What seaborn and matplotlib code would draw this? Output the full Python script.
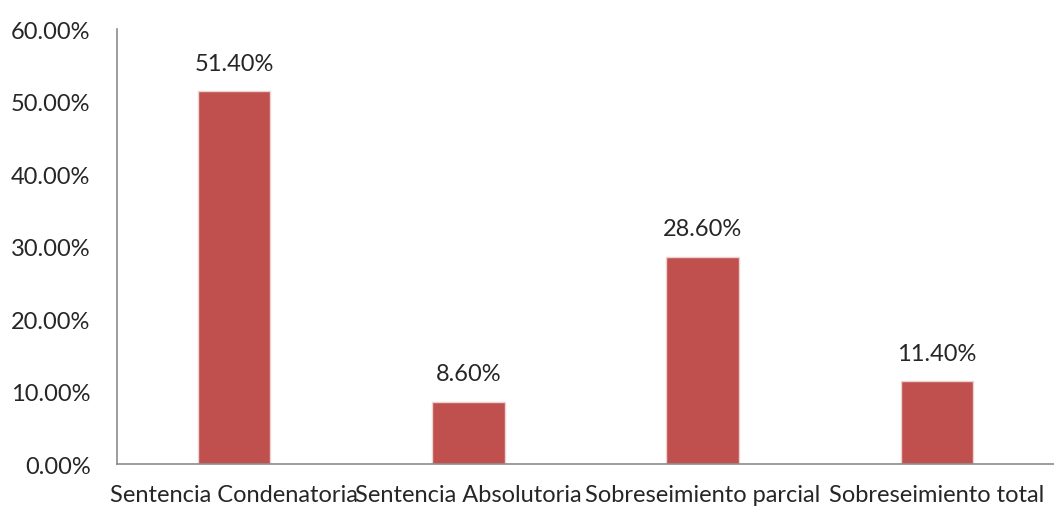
import pandas as pd
import matplotlib
matplotlib.use("Agg")
import matplotlib.pyplot as plt
import seaborn as sns

categories = ["Sentencia Condenatoria", "Sentencia Absolutoria",
              "Sobreseimiento parcial", "Sobreseimiento total"]
values = [51.4, 8.6, 28.6, 11.4]
yticks = [0, 10, 20, 30, 40, 50, 60]

df = pd.DataFrame({"Categoria": categories, "Porcentaje": values})

sns.set_style("white")
plt.rcParams["font.family"] = ["Lato", "DejaVu Sans"]

fig = plt.figure(figsize=(10.54, 5.10), dpi=100)
ax = fig.add_axes([0.111, 0.088, 0.889, 0.853])

sns.barplot(data=df, x="Categoria", y="Porcentaje", color="#C0504D",
            width=0.31, saturation=1, edgecolor="#EBD3D3", linewidth=1, ax=ax)

ax.set_ylim(0, 60)
ax.set_xlim(-0.5, 3.5)
ax.set_yticks(yticks)
ax.set_yticklabels([f"{v:.2f}%" for v in yticks], fontsize=17)
ax.tick_params(axis="x", labelsize=17, length=0, pad=14)
ax.tick_params(axis="y", length=0, pad=19)
ax.set_xlabel("")
ax.set_ylabel("")

for s in ["top", "right"]:
    ax.spines[s].set_visible(False)
for s in ["left", "bottom"]:
    ax.spines[s].set_color("#8C8C8C")
    ax.spines[s].set_linewidth(1.2)

# Value labels
for i, v in enumerate(values):
    ax.text(i, v + 2.4, f"{v:.2f}%", ha="center", va="bottom", fontsize=17)

fig.savefig("out.png", dpi=100)
